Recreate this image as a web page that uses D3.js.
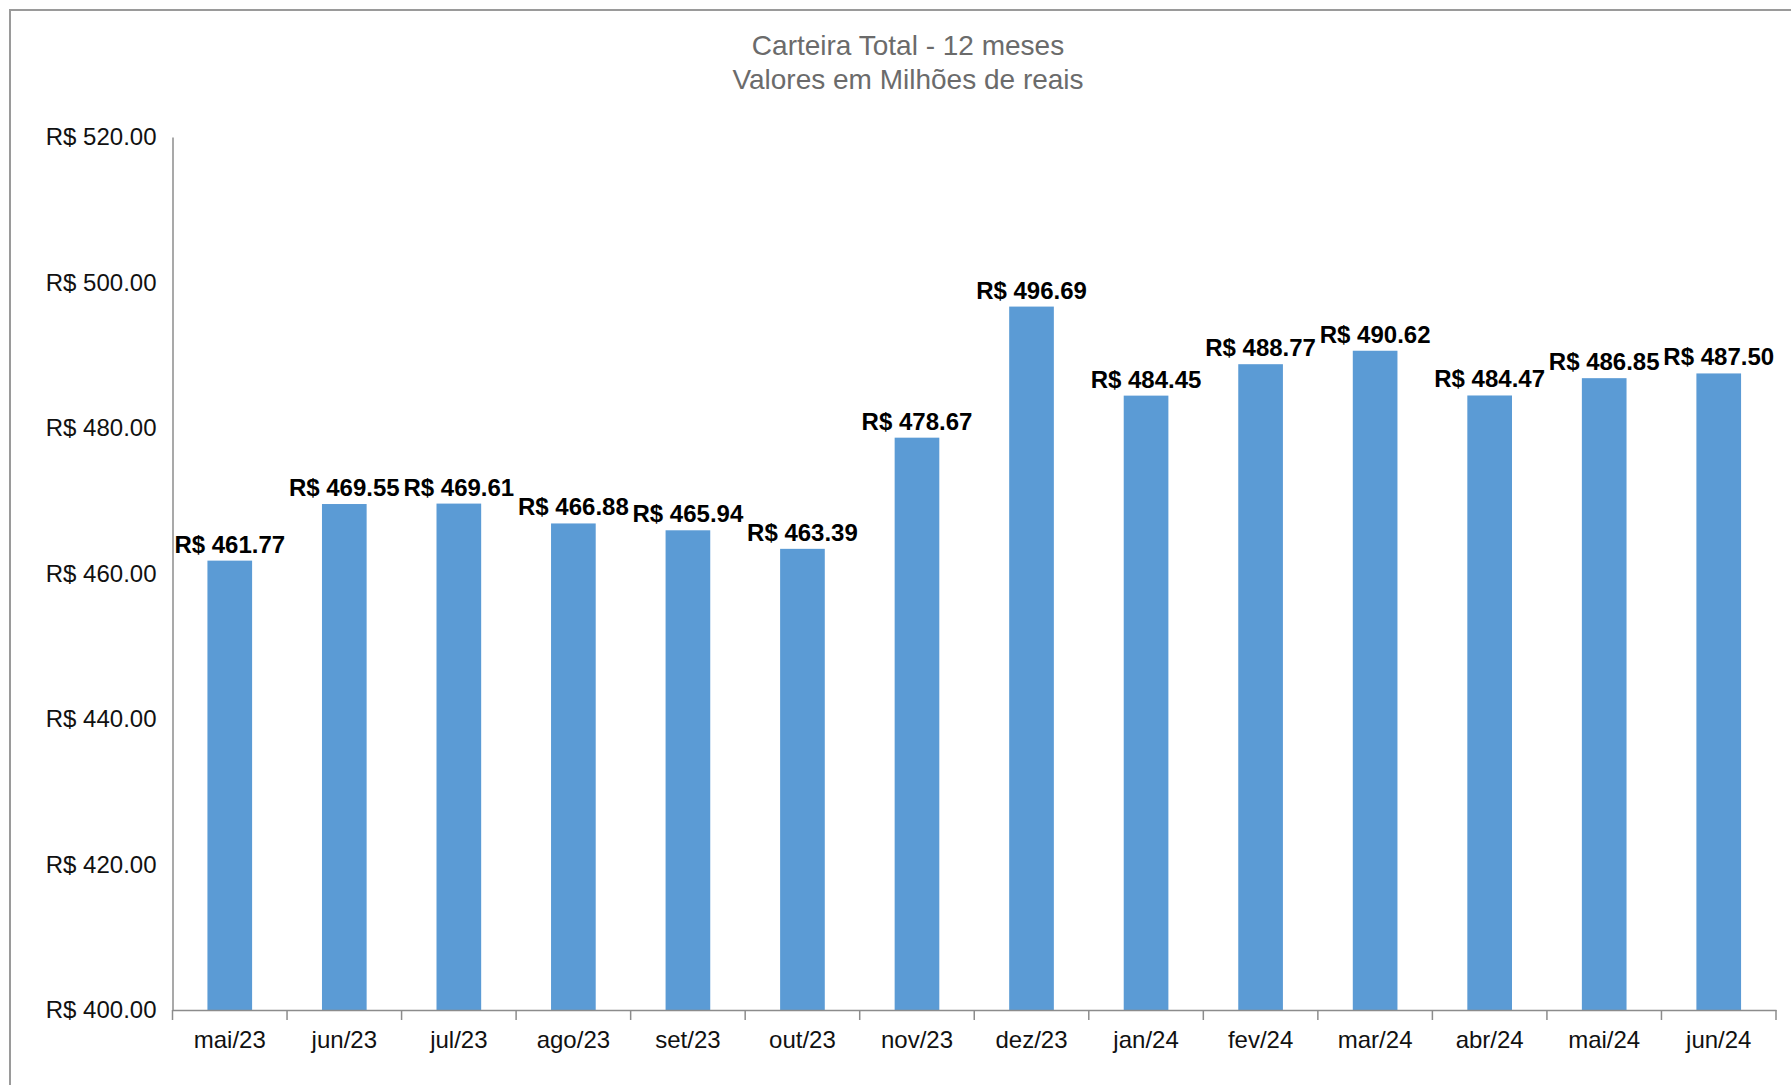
<!DOCTYPE html>
<html>
<head>
<meta charset="utf-8">
<script src="https://cdn.jsdelivr.net/npm/d3@7"></script>
<style>
  html, body { margin: 0; padding: 0; background: #fff; }
  svg { display: block; }
</style>
</head>
<body>
<script>
const categories = ["mai/23","jun/23","jul/23","ago/23","set/23","out/23","nov/23","dez/23","jan/24","fev/24","mar/24","abr/24","mai/24","jun/24"];
const values = [461.77, 469.55, 469.61, 466.88, 465.94, 463.39, 478.67, 496.69, 484.45, 488.77, 490.62, 484.47, 486.85, 487.50];
const yTicks = [400, 420, 440, 460, 480, 500, 520];
const titleLines = ["Carteira Total - 12 meses", "Valores em Milhões de reais"];

const W = 1791, H = 1085;
const FONT = "'Liberation Sans', Arial, sans-serif";
const plot = { left: 172.5, right: 1776, top: 137, bottom: 1010 };

const svg = d3.select("body").append("svg").attr("width", W).attr("height", H);
svg.append("rect").attr("width", W).attr("height", H).attr("fill", "#fff");

// chart area border (extends beyond the image right/bottom)
svg.append("rect")
  .attr("x", 10).attr("y", 10)
  .attr("width", W + 20).attr("height", H + 20)
  .attr("fill", "none").attr("stroke", "#9a9a9a").attr("stroke-width", 2);

// title
svg.append("g").selectAll("text").data(titleLines).join("text")
  .attr("x", 908).attr("y", (d, i) => 55 + i * 34)
  .attr("text-anchor", "middle")
  .attr("font-family", FONT).attr("font-size", 28).attr("fill", "#6b6b6b")
  .text(d => d);

const x = d3.scaleBand().domain(categories).range([plot.left, plot.right]).paddingInner(0).paddingOuter(0);
const y = d3.scaleLinear().domain([400, 520]).range([plot.bottom, plot.top]);
const barW = x.bandwidth() * 0.39;

// bars
svg.append("g").selectAll("rect").data(values).join("rect")
  .attr("x", (d, i) => x(categories[i]) + (x.bandwidth() - barW) / 2)
  .attr("y", d => y(d))
  .attr("width", barW)
  .attr("height", d => y(400) - y(d))
  .attr("fill", "#5B9BD5");

// y axis
const yAxis = svg.append("g").attr("transform", `translate(${plot.left},0)`)
  .call(d3.axisLeft(y).tickValues(yTicks).tickSize(0).tickPadding(16)
    .tickFormat(d => "R$ " + d3.format(".2f")(d)));
yAxis.select(".domain").attr("stroke", "#8c8c8c").attr("stroke-width", 1.5);
yAxis.selectAll("text").attr("font-family", FONT).attr("font-size", 24).attr("fill", "#111");

// x axis
const xAxis = svg.append("g").attr("transform", `translate(0,${plot.bottom})`)
  .call(d3.axisBottom(x).tickSize(0).tickPadding(21));
xAxis.select(".domain").attr("stroke", "#8c8c8c").attr("stroke-width", 1.5);
xAxis.selectAll("text").attr("font-family", FONT).attr("font-size", 24).attr("fill", "#111");
// tick marks at category boundaries
const bounds = categories.map(c => x(c)).concat([plot.right]);
xAxis.append("g").selectAll("line").data(bounds).join("line")
  .attr("x1", d => d).attr("x2", d => d)
  .attr("y1", 0).attr("y2", 10)
  .attr("stroke", "#8c8c8c").attr("stroke-width", 1.5);

// data labels
svg.append("g").selectAll("text").data(values).join("text")
  .attr("x", (d, i) => x(categories[i]) + x.bandwidth() / 2)
  .attr("y", d => y(d) - 8)
  .attr("text-anchor", "middle")
  .attr("font-family", FONT).attr("font-size", 24).attr("font-weight", "bold").attr("fill", "#000")
  .text(d => "R$ " + d3.format(".2f")(d));
</script>
</body>
</html>
